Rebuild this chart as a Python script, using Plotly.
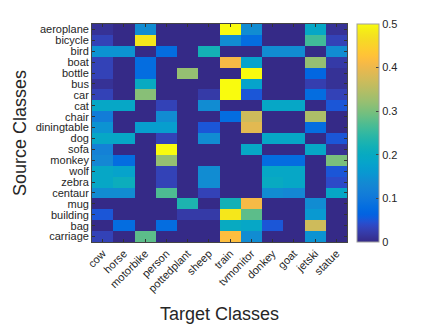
import plotly.graph_objects as go

source_classes = ["aeroplane", "bicycle", "bird", "boat", "bottle", "bus", "car", "cat",
                  "chair", "diningtable", "dog", "sofa", "monkey", "wolf", "zebra",
                  "centaur", "mug", "building", "bag", "carriage"]
target_classes = ["cow", "horse", "motorbike", "person", "pottedplant", "sheep",
                  "train", "tvmonitor", "donkey", "goat", "jetski", "statue"]

# rows = source classes, columns = target classes
aeroplane   = [0.01, 0.00, 0.14, 0.00, 0.00, 0.00, 0.50, 0.14, 0.00, 0.00, 0.19, 0.01]
bicycle     = [0.03, 0.00, 0.48, 0.00, 0.00, 0.00, 0.14, 0.08, 0.00, 0.00, 0.26, 0.03]
bird        = [0.15, 0.15, 0.00, 0.08, 0.00, 0.22, 0.00, 0.00, 0.14, 0.14, 0.00, 0.14]
boat        = [0.03, 0.00, 0.08, 0.00, 0.00, 0.00, 0.41, 0.18, 0.00, 0.00, 0.32, 0.02]
bottle      = [0.03, 0.00, 0.08, 0.00, 0.32, 0.00, 0.00, 0.50, 0.00, 0.00, 0.07, 0.01]
bus         = [0.01, 0.00, 0.20, 0.00, 0.00, 0.00, 0.50, 0.18, 0.00, 0.00, 0.025, 0.01]
car         = [0.03, 0.00, 0.31, 0.00, 0.00, 0.02, 0.50, 0.05, 0.00, 0.00, 0.08, 0.03]
cat         = [0.19, 0.19, 0.00, 0.03, 0.00, 0.14, 0.00, 0.00, 0.19, 0.19, 0.00, 0.05]
chair       = [0.11, 0.00, 0.00, 0.14, 0.00, 0.00, 0.08, 0.37, 0.00, 0.00, 0.34, 0.00]
diningtable = [0.15, 0.00, 0.17, 0.17, 0.00, 0.05, 0.00, 0.39, 0.00, 0.00, 0.08, 0.00]
dog         = [0.19, 0.19, 0.00, 0.03, 0.00, 0.14, 0.00, 0.00, 0.19, 0.19, 0.00, 0.05]
sofa        = [0.12, 0.00, 0.00, 0.50, 0.00, 0.00, 0.00, 0.19, 0.00, 0.00, 0.19, 0.01]
monkey      = [0.13, 0.08, 0.00, 0.32, 0.00, 0.00, 0.00, 0.00, 0.08, 0.08, 0.00, 0.30]
wolf        = [0.19, 0.18, 0.00, 0.03, 0.00, 0.14, 0.00, 0.00, 0.19, 0.19, 0.00, 0.05]
zebra       = [0.19, 0.21, 0.00, 0.03, 0.00, 0.14, 0.00, 0.00, 0.20, 0.19, 0.00, 0.04]
centaur     = [0.14, 0.14, 0.00, 0.27, 0.00, 0.03, 0.00, 0.00, 0.14, 0.13, 0.00, 0.19]
mug         = [0.00, 0.00, 0.00, 0.00, 0.23, 0.00, 0.22, 0.41, 0.00, 0.00, 0.14, 0.00]
building    = [0.05, 0.00, 0.00, 0.00, 0.02, 0.02, 0.48, 0.28, 0.00, 0.00, 0.16, 0.00]
bag         = [0.00, 0.08, 0.00, 0.08, 0.00, 0.00, 0.20, 0.19, 0.05, 0.00, 0.37, 0.00]
carriage    = [0.03, 0.00, 0.28, 0.00, 0.00, 0.00, 0.42, 0.14, 0.00, 0.00, 0.15, 0.00]

z = [aeroplane, bicycle, bird, boat, bottle, bus, car, cat, chair, diningtable, dog,
     sofa, monkey, wolf, zebra, centaur, mug, building, bag, carriage]

colorbar_ticks = [0, 0.1, 0.2, 0.3, 0.4, 0.5]
colorbar_ticktext = ["0", "0.1", "0.2", "0.3", "0.4", "0.5"]

# MATLAB parula (64 entries)
parula_rgb = [
    (0.2081, 0.1663, 0.5292), (0.2116, 0.1898, 0.5777), (0.2123, 0.2138, 0.6270),
    (0.2081, 0.2386, 0.6771), (0.1959, 0.2645, 0.7279), (0.1707, 0.2919, 0.7792),
    (0.1253, 0.3242, 0.8303), (0.0591, 0.3598, 0.8683), (0.0117, 0.3875, 0.8820),
    (0.0060, 0.4086, 0.8828), (0.0165, 0.4266, 0.8786), (0.0329, 0.4430, 0.8720),
    (0.0498, 0.4586, 0.8641), (0.0629, 0.4737, 0.8554), (0.0723, 0.4887, 0.8467),
    (0.0779, 0.5040, 0.8384), (0.0793, 0.5200, 0.8312), (0.0749, 0.5375, 0.8263),
    (0.0641, 0.5570, 0.8240), (0.0488, 0.5772, 0.8228), (0.0343, 0.5966, 0.8199),
    (0.0265, 0.6137, 0.8135), (0.0239, 0.6287, 0.8038), (0.0231, 0.6418, 0.7913),
    (0.0228, 0.6535, 0.7768), (0.0267, 0.6642, 0.7607), (0.0384, 0.6743, 0.7436),
    (0.0590, 0.6838, 0.7254), (0.0843, 0.6928, 0.7062), (0.1133, 0.7015, 0.6859),
    (0.1453, 0.7098, 0.6646), (0.1801, 0.7177, 0.6424), (0.2178, 0.7250, 0.6193),
    (0.2586, 0.7317, 0.5954), (0.3022, 0.7376, 0.5712), (0.3482, 0.7424, 0.5473),
    (0.3953, 0.7459, 0.5244), (0.4420, 0.7481, 0.5033), (0.4871, 0.7491, 0.4840),
    (0.5300, 0.7491, 0.4661), (0.5709, 0.7485, 0.4494), (0.6099, 0.7473, 0.4337),
    (0.6473, 0.7456, 0.4188), (0.6834, 0.7435, 0.4044), (0.7184, 0.7411, 0.3905),
    (0.7525, 0.7384, 0.3768), (0.7858, 0.7356, 0.3633), (0.8185, 0.7327, 0.3498),
    (0.8507, 0.7299, 0.3360), (0.8824, 0.7274, 0.3217), (0.9139, 0.7258, 0.3063),
    (0.9450, 0.7261, 0.2886), (0.9739, 0.7314, 0.2666), (0.9938, 0.7455, 0.2403),
    (0.9990, 0.7653, 0.2164), (0.9955, 0.7861, 0.1967), (0.9880, 0.8066, 0.1794),
    (0.9789, 0.8271, 0.1633), (0.9697, 0.8481, 0.1475), (0.9626, 0.8705, 0.1309),
    (0.9589, 0.8949, 0.1132), (0.9598, 0.9218, 0.0948), (0.9661, 0.9514, 0.0755),
    (0.9763, 0.9831, 0.0538)]
n = len(parula_rgb)
parula = [[i / (n - 1), "rgb(%d,%d,%d)" % tuple(round(c * 255) for c in rgb)]
          for i, rgb in enumerate(parula_rgb)]

font_family = "Liberation Sans, Arial, sans-serif"
text_color = "#262626"

fig = go.Figure(go.Heatmap(
    z=z, x=target_classes, y=source_classes,
    colorscale=parula, zmin=0, zmax=0.5,
    colorbar=dict(
        x=1.039, xanchor="left", y=0.5, yanchor="middle", len=1.0, lenmode="fraction",
        ypad=0, xpad=0,
        thickness=22, thicknessmode="pixels",
        outlinewidth=1, outlinecolor="#a0a0a0",
        tickmode="array", tickvals=colorbar_ticks, ticktext=colorbar_ticktext,
        ticks="inside", ticklen=3, tickcolor="#444",
        tickfont=dict(family=font_family, size=11, color=text_color),
    ),
))

fig.update_layout(
    width=428, height=319,
    margin=dict(l=84, r=89, t=16, b=85),
    paper_bgcolor="white", plot_bgcolor="white",
    font=dict(family=font_family, color=text_color),
)
fig.update_xaxes(
    title=dict(text="Target Classes", font=dict(size=18, family=font_family, color=text_color), standoff=14),
    tickmode="array", tickvals=target_classes, ticktext=target_classes,
    tickangle=-45, tickfont=dict(size=11, family=font_family, color=text_color),
    ticks="inside", ticklen=3, tickcolor="#333", mirror="ticks",
    showline=True, linecolor="#444", linewidth=0.8,
    showgrid=False, zeroline=False, automargin=False,
)
fig.update_yaxes(
    title=dict(text="Source Classes", font=dict(size=18, family=font_family, color=text_color), standoff=4),
    autorange="reversed",
    tickmode="array", tickvals=source_classes, ticktext=source_classes,
    tickfont=dict(size=11, family=font_family, color=text_color),
    ticks="inside", ticklen=3, tickcolor="#333", mirror="ticks",
    showline=True, linecolor="#444", linewidth=0.8,
    showgrid=False, zeroline=False, automargin=False,
)

fig.write_html("out.html")
